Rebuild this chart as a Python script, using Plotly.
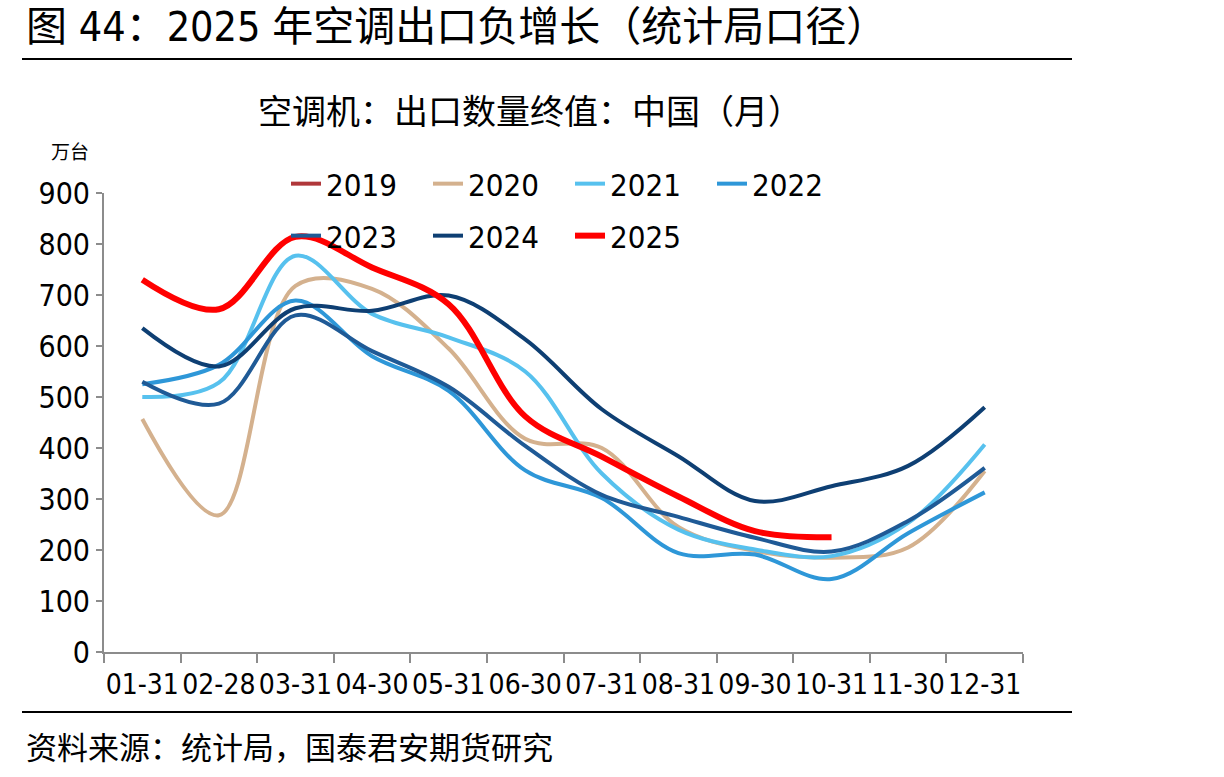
import plotly.graph_objects as go

months = ["01-31", "02-28", "03-31", "04-30", "05-31", "06-30",
          "07-31", "08-31", "09-30", "10-31", "11-30", "12-31"]
y2019 = [None] * 12
y2020 = [457, 268, 718, 712, 595, 418, 400, 245, 198, 185, 205, 355]
y2021 = [500, 528, 777, 663, 617, 550, 350, 240, 201, 188, 253, 407]
y2022 = [525, 563, 689, 580, 512, 356, 302, 194, 191, 143, 233, 313]
y2023 = [530, 487, 660, 590, 520, 404, 308, 265, 224, 197, 257, 361]
y2024 = [635, 560, 674, 669, 699, 613, 476, 384, 296, 325, 365, 480]
y2025 = [730, 672, 814, 754, 682, 462, 383, 305, 237, 225, None, None]

series = [
    ("2019", y2019, "#B0373A", 4, "legend"),
    ("2020", y2020, "#D4B18E", 4, "legend"),
    ("2021", y2021, "#57C1EE", 4, "legend"),
    ("2022", y2022, "#2E97D8", 4, "legend"),
    ("2023", y2023, "#1F5A96", 4, "legend2"),
    ("2024", y2024, "#0E3F73", 4, "legend2"),
    ("2025", y2025, "#FF0000", 6, "legend2"),
]

FONT = "DejaVu Sans Condensed, Liberation Sans Narrow, Noto Sans CJK SC, sans-serif"
CJK = "Noto Sans CJK SC, sans-serif"

fig = go.Figure()
for name, ys, color, w, lg in series:
    fig.add_trace(go.Scatter(
        x=months, y=ys, name=name, mode="lines",
        line=dict(color=color, width=w, shape="spline", smoothing=1.0),
        connectgaps=False, legend=lg,
    ))

W, H = 1224, 777
L, R, T, B = 104, 201, 193, 125
pw, ph = W - L - R, H - T - B


def px(x):
    return (x - L) / pw


def py(y):
    return (H - B - y) / ph


axis_col = "#8C8C8C"
fig.update_layout(
    width=W, height=H,
    margin=dict(l=L, r=R, t=T, b=B),
    paper_bgcolor="white", plot_bgcolor="white",
    font=dict(family=FONT, size=30, color="black"),
    xaxis=dict(
        type="category", range=[-0.5, 11.5], tickson="boundaries",
        showline=True, linecolor=axis_col, linewidth=2,
        ticks="outside", ticklen=9, tickcolor=axis_col, tickwidth=2,
        showgrid=False, zeroline=False, tickangle=0, ticklabelstandoff=6,
        tickfont=dict(family=FONT, size=28, color="black"),
    ),
    yaxis=dict(
        range=[0, 900], dtick=100,
        showline=True, linecolor=axis_col, linewidth=2,
        ticks="outside", ticklen=6, tickcolor=axis_col, tickwidth=2,
        showgrid=False, zeroline=False,
        tickfont=dict(family=FONT, size=30, color="black"),
    ),
    legend=dict(
        orientation="h", x=px(286), y=py(184), xanchor="left", yanchor="middle",
        entrywidth=97, entrywidthmode="pixels",
        font=dict(family=FONT, size=31), bgcolor="rgba(0,0,0,0)",
        itemwidth=30,
    ),
    legend2=dict(
        orientation="h", x=px(286), y=py(236), xanchor="left", yanchor="middle",
        entrywidth=97, entrywidthmode="pixels",
        font=dict(family=FONT, size=31), bgcolor="rgba(0,0,0,0)",
        itemwidth=30,
    ),
    showlegend=True,
)

annos = [
    dict(text="图 44：2025 年空调出口负增长（统计局口径）", x=px(24), y=py(27),
         xanchor="left", yanchor="middle", font=dict(family=FONT, size=41)),
    dict(text="空调机：出口数量终值：中国（月）", x=px(530), y=py(110),
         xanchor="center", yanchor="middle", font=dict(family=CJK, size=34)),
    dict(text="万台", x=px(70), y=py(150),
         xanchor="center", yanchor="middle", font=dict(family=CJK, size=19)),
    dict(text="资料来源：统计局，国泰君安期货研究", x=px(24), y=py(745),
         xanchor="left", yanchor="middle", font=dict(family=CJK, size=31)),
]
for a in annos:
    fig.add_annotation(xref="paper", yref="paper", showarrow=False, **a)

for yline in (59, 712):
    fig.add_shape(type="line", xref="paper", yref="paper",
                  x0=px(22), x1=px(1072), y0=py(yline), y1=py(yline),
                  line=dict(color="black", width=2))

fig.write_html("out.html")
